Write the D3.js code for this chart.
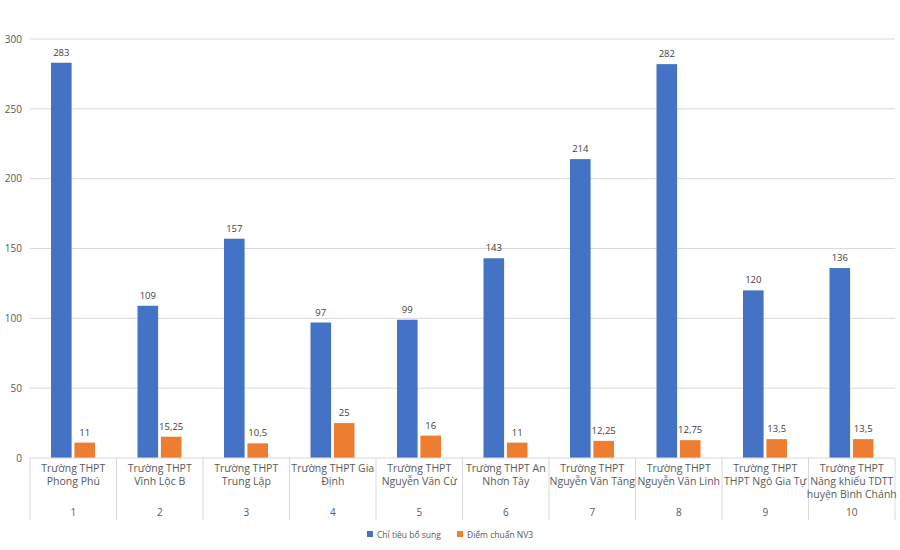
<!DOCTYPE html>
<html>
<head>
<meta charset="utf-8">
<script src="https://cdn.jsdelivr.net/npm/d3@7"></script>
<style>
  html, body { margin: 0; padding: 0; background: #fff; }
  svg { display: block; font-family: "Open Sans", "Noto Sans", sans-serif; }
</style>
</head>
<body>
<svg id="chart" width="900" height="550"></svg>
<script>
const indices = ["1","2","3","4","5","6","7","8","9","10"];
const schools = [
  ["Trường THPT", "Phong Phú"],
  ["Trường THPT", "Vĩnh Lộc B"],
  ["Trường THPT", "Trung Lập"],
  ["Trường THPT Gia", "Định"],
  ["Trường THPT", "Nguyễn Văn Cừ"],
  ["Trường THPT An", "Nhơn Tây"],
  ["Trường THPT", "Nguyễn Văn Tăng"],
  ["Trường THPT", "Nguyễn Văn Linh"],
  ["Trường THPT", "THPT Ngô Gia Tự"],
  ["Trường THPT", "Năng khiếu TDTT", "huyện Bình Chánh"]
];
const seriesNames = ["Chỉ tiêu bổ sung", "Điểm chuẩn NV3"];
const chiTieu = [283, 109, 157, 97, 99, 143, 214, 282, 120, 136];
const diemChuan = [11, 15.25, 10.5, 25, 16, 11, 12.25, 12.75, 13.5, 13.5];
const yTicks = [0, 50, 100, 150, 200, 250, 300];
const colors = ["#4472C4", "#ED7D31"];

const svg = d3.select("#chart");
const mLeft = 30, mRight = 895, mTop = 39, mBottom = 458;

const x = d3.scaleBand().domain(indices).range([mLeft, mRight]).padding(0);
const inner = d3.scaleBand().domain([0, 1]).range([21, 65]).paddingInner(0.12).paddingOuter(0);
const y = d3.scaleLinear().domain([0, 300]).range([mBottom, mTop]);

// gridlines
svg.append("g").selectAll("line").data(yTicks.filter(d => d > 0)).join("line")
  .attr("x1", mLeft).attr("x2", mRight)
  .attr("y1", d => y(d)).attr("y2", d => y(d))
  .attr("stroke", "#d9d9d9").attr("stroke-width", 1);

// y axis labels
const yAxis = d3.axisLeft(y).tickValues(yTicks).tickSize(0).tickPadding(8);
const gy = svg.append("g").attr("transform", `translate(${mLeft},0)`).call(yAxis);
gy.select(".domain").remove();
gy.selectAll("text").attr("fill", "#595959").style("font-size", "10px")
  .style("font-family", "\"Open Sans\", sans-serif");

// bars
const data = indices.map((k, i) => ({ k, vals: [chiTieu[i], diemChuan[i]] }));
const groups = svg.append("g").selectAll("g").data(data).join("g")
  .attr("transform", d => `translate(${x(d.k)},0)`);
groups.selectAll("rect").data(d => d.vals.map((v, s) => ({ v, s }))).join("rect")
  .attr("x", d => inner(d.s)).attr("width", inner.bandwidth())
  .attr("y", d => y(d.v)).attr("height", d => y(0) - y(d.v))
  .attr("fill", d => colors[d.s]);
groups.selectAll("text.val").data(d => d.vals.map((v, s) => ({ v, s }))).join("text")
  .attr("class", "val")
  .attr("x", d => inner(d.s) + inner.bandwidth() / 2)
  .attr("y", d => y(d.v) - 7)
  .attr("text-anchor", "middle")
  .attr("fill", "#404040").style("font-size", "9.5px")
  .text(d => String(d.v).replace(".", ","));

// x axis baseline and separators
svg.append("line").attr("x1", mLeft).attr("x2", mRight).attr("y1", mBottom).attr("y2", mBottom)
  .attr("stroke", "#d9d9d9");
const bounds = indices.map(k => x(k)).concat([mRight]);
svg.append("g").selectAll("line").data(bounds).join("line")
  .attr("x1", d => d).attr("x2", d => d).attr("y1", mBottom).attr("y2", 520)
  .attr("stroke", "#d9d9d9");

// category labels
const lab = svg.append("g").selectAll("g").data(indices).join("g")
  .attr("transform", k => `translate(${x(k) + x.bandwidth() / 2},0)`);
lab.append("text").attr("text-anchor", "middle").attr("fill", "#595959")
  .style("font-size", "10.5px")
  .each(function(k, i) {
    const t = d3.select(this);
    schools[i].forEach((line, j) => {
      t.append("tspan").attr("x", 0).attr("y", 472 + j * 13).text(line);
    });
  });
lab.append("text").attr("text-anchor", "middle").attr("fill", "#595959")
  .style("font-size", "10px").attr("y", 516).text(k => k);

// legend
const legend = svg.append("g").attr("transform", "translate(367,535)");
const items = [{ n: seriesNames[0], c: colors[0], x: 0 }, { n: seriesNames[1], c: colors[1], x: 90 }];
const li = legend.selectAll("g").data(items).join("g").attr("transform", d => `translate(${d.x},0)`);
li.append("rect").attr("x", 0).attr("y", -4).attr("width", 6).attr("height", 6).attr("fill", d => d.c);
li.append("text").attr("x", 10).attr("y", 3).attr("fill", "#595959").style("font-size", "8.5px").text(d => d.n);
</script>
</body>
</html>
